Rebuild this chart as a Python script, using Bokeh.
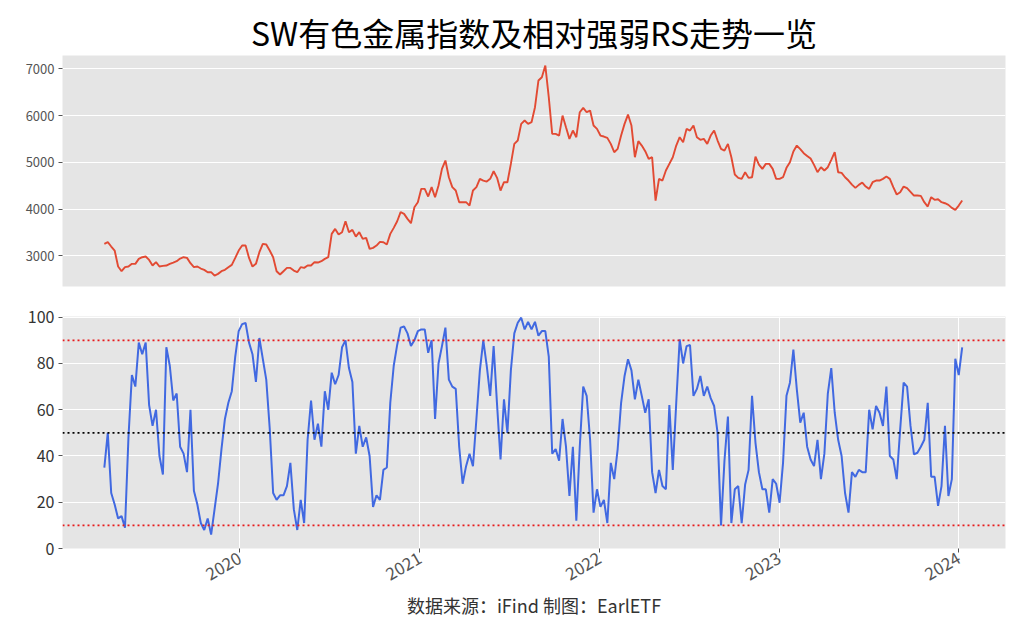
import math
import pandas as pd
from bokeh.plotting import figure
from bokeh.layouts import column
from bokeh.models import Span, FixedTicker, DatetimeTickFormatter, Range1d, ColumnDataSource
from bokeh.embed import file_html
from bokeh.resources import INLINE

# ---------------- data (weekly samples) ----------------
start_date = "2019-04-01"
sample_step = "7D"

sw_index = [
    3257, 3292, 3200, 3114, 2772, 2672, 2758, 2772, 2829, 2829,
    2936, 2971, 2986, 2914, 2793, 2865, 2772, 2786, 2793, 2829,
    2857, 2886, 2943, 2971, 2957, 2843, 2758, 2772, 2729, 2701,
    2651, 2651, 2579, 2615, 2672, 2701, 2758, 2808, 2957, 3114,
    3221, 3221, 2957, 2772, 2829, 3078, 3257, 3242, 3114, 2971,
    2672, 2601, 2672, 2743, 2743, 2686, 2651, 2758, 2743, 2793,
    2793, 2865, 2857, 2886, 2936, 2971, 3470, 3577, 3456, 3506,
    3741, 3506, 3556, 3413, 3506, 3364, 3385, 3150, 3171, 3221,
    3299, 3292, 3242, 3470, 3599, 3741, 3934, 3898, 3791, 3699,
    4041, 4148, 4433, 4433, 4269, 4469, 4255, 4504, 4860, 5039,
    4682, 4469, 4397, 4148, 4148, 4148, 4076, 4397, 4469, 4647,
    4611, 4589, 4647, 4810, 4668, 4397, 4575, 4575, 4967, 5395,
    5466, 5823, 5894, 5823, 5858, 6179, 6750, 6820, 7070, 6393,
    5609, 5609, 5573, 6001, 5751, 5502, 5680, 5538, 6072, 6165,
    6072, 6108, 5787, 5716, 5573, 5552, 5523, 5395, 5217, 5288,
    5573, 5823, 6022, 5787, 5110, 5452, 5359, 5238, 5074, 5110,
    4183, 4647, 4611, 4825, 4967, 5110, 5359, 5538, 5431, 5716,
    5680, 5787, 5538, 5481, 5502, 5395, 5573, 5680, 5466, 5288,
    5252, 5395, 5110, 4739, 4668, 4647, 4789, 4668, 4682, 5124,
    4953, 4860, 4967, 4967, 4860, 4647, 4647, 4682, 4882, 5003,
    5231, 5359, 5281, 5195, 5138, 5081, 4946, 4789, 4896, 4825,
    4896, 5053, 5217, 4789, 4775, 4682, 4611, 4525, 4454, 4518,
    4568, 4483, 4433, 4575, 4611, 4611, 4647, 4697, 4647, 4469,
    4312, 4361, 4483, 4447, 4369, 4290, 4290, 4283, 4148, 4055,
    4255, 4198, 4212, 4148, 4126, 4091, 4026, 3984, 4076, 4183,
]

rs_values = [
    35, 50, 24, 19, 13, 14, 9, 48, 75, 70,
    89, 84, 89, 62, 53, 60, 40, 32, 87, 79,
    64, 67, 44, 41, 33, 60, 25, 19, 11, 8,
    13, 6, 17, 28, 43, 56, 63, 68, 83, 94,
    97, 97.5, 89, 84, 72, 91, 82, 73, 52, 24,
    21, 23, 23, 27, 37, 17, 8, 21, 11, 47,
    64, 47, 54, 44, 68, 60, 76, 71, 75, 87,
    90, 78, 72, 41, 53, 44, 48, 40, 18, 23,
    21, 34, 35, 63, 79, 88, 95.5, 96, 93, 87.5,
    90, 94, 94.7, 94.7, 84.6, 90, 56, 80, 87.5, 95.5,
    73, 70, 69, 44, 28, 35.6, 41, 35.6, 56, 77,
    90, 79, 66, 87.5, 62, 38.5, 64.5, 50, 77, 93,
    97.6, 99.8, 94.7, 98, 94.7, 98, 92, 94, 94, 83,
    41, 43, 38, 56, 44, 22.7, 44, 12, 44, 70,
    66, 47, 15.5, 25.6, 18, 21, 11, 37, 30, 43,
    63, 74.6, 81.8, 77, 64.5, 73, 66, 58.7, 64.5, 33,
    24, 34, 27, 25.6, 62, 34, 63, 90.4, 80, 87.5,
    88, 66, 69, 74.6, 66, 70, 65, 61.6, 50, 10,
    38, 57, 11, 25.6, 27, 11, 27.7, 34, 66, 45.7,
    33, 25.6, 25.6, 15.5, 30, 28, 19.8, 37, 66, 71.7,
    86, 68.8, 54.4, 58.7, 44, 38.5, 35.6, 47, 30, 41,
    67, 78, 58.7, 47, 40, 24, 15.5, 33, 31, 34,
    33, 33, 60, 51.5, 61.6, 58.7, 53, 70, 40, 38.5,
    30, 51.5, 71.7, 70, 53, 40.7, 41.4, 44, 47, 63,
    31, 31, 18.4, 27, 53, 22.7, 30, 82, 75, 87,
]

year_ticks = ["2020-01-01", "2021-01-01", "2022-01-01", "2023-01-01", "2024-01-01"]
index_ticks = [3000, 4000, 5000, 6000, 7000]
rs_ticks = [0, 20, 40, 60, 80, 100]
rs_levels = [90, 50, 10]
rs_level_colors = ["#e8191b", "black", "#e8191b"]
x_limits = ["2019-01-06", "2024-04-05"]
index_limits = [2345, 7285]
rs_limits = [0, 100.3]

title_text = "SW有色金属指数及相对强弱RS走势一览"
caption_text = "数据来源：iFind 制图：EarlETF"

# ---------------- build ----------------
dates = pd.date_range(start=start_date, periods=len(sw_index), freq=sample_step)
src = ColumnDataSource(dict(date=dates, idx=sw_index, rs=rs_values))

CJK = "Noto Sans CJK SC"
BG = "#E5E5E5"

x_range = Range1d(start=pd.Timestamp(x_limits[0]), end=pd.Timestamp(x_limits[1]))

p1 = figure(width=1024, height=300, x_axis_type=None, x_range=x_range,
            y_range=Range1d(*index_limits), output_backend="svg",
            toolbar_location=None, min_border_left=62, min_border_right=19,
            min_border_top=55, min_border_bottom=14)
p1.title.text = title_text
p1.title.align = "center"
p1.title.text_font = CJK
p1.title.text_font_size = "32px"
p1.title.text_font_style = "normal"
p1.title.text_color = "black"
p1.title.standoff = 2
p1.line("date", "idx", source=src, line_color="#E24A33", line_width=1.9)
p1.yaxis.ticker = FixedTicker(ticks=index_ticks)

p2 = figure(width=1024, height=332, x_axis_type="datetime", x_range=x_range,
            y_range=Range1d(*rs_limits), output_backend="svg",
            toolbar_location=None, min_border_left=62, min_border_right=19,
            min_border_top=16, min_border_bottom=84)
p2.line("date", "rs", source=src, line_color="#4169E1", line_width=2.0)
for lv, col in zip(rs_levels, rs_level_colors):
    p2.add_layout(Span(location=lv, dimension="width", line_color=col,
                       line_dash="2 3", line_width=1.7))
p2.yaxis.ticker = FixedTicker(ticks=rs_ticks)
year_ms = [pd.Timestamp(t).value / 1e6 for t in year_ticks]
p2.xaxis.ticker = FixedTicker(ticks=year_ms)
p2.xaxis.formatter = DatetimeTickFormatter(years="%Y", months="%Y", days="%Y",
                                           hours="%Y", minutes="%Y", seconds="%Y",
                                           milliseconds="%Y", microseconds="%Y")
p2.xaxis.major_label_orientation = math.pi / 6
p2.xaxis.axis_label = caption_text
p2.xaxis.axis_label_text_font = CJK
p2.xaxis.axis_label_text_font_size = "18px"
p2.xaxis.axis_label_text_font_style = "normal"
p2.xaxis.axis_label_text_color = "#333333"
p2.xaxis.axis_label_standoff = 2

for p, fs in ((p1, "13px"), (p2, "16px")):
    p.background_fill_color = BG
    p.border_fill_color = "white"
    p.outline_line_color = None
    for ax in p.axis:
        ax.axis_line_color = None
        ax.major_tick_line_color = "#555555"
        ax.major_tick_out = 4
        ax.major_tick_in = 0
        ax.minor_tick_line_color = None
        ax.major_label_text_font = CJK
        ax.major_label_text_color = "#555555"
        ax.major_label_text_font_size = fs
        ax.major_label_standoff = 4
    for g in p.grid:
        g.grid_line_color = "white"
        g.grid_line_width = 1

p2.yaxis.major_label_text_color = "#333333"
p2.xaxis.major_label_text_font_size = "17px"

layout = column(p1, p2, spacing=0)
open("out.html", "w").write(file_html(layout, INLINE))
